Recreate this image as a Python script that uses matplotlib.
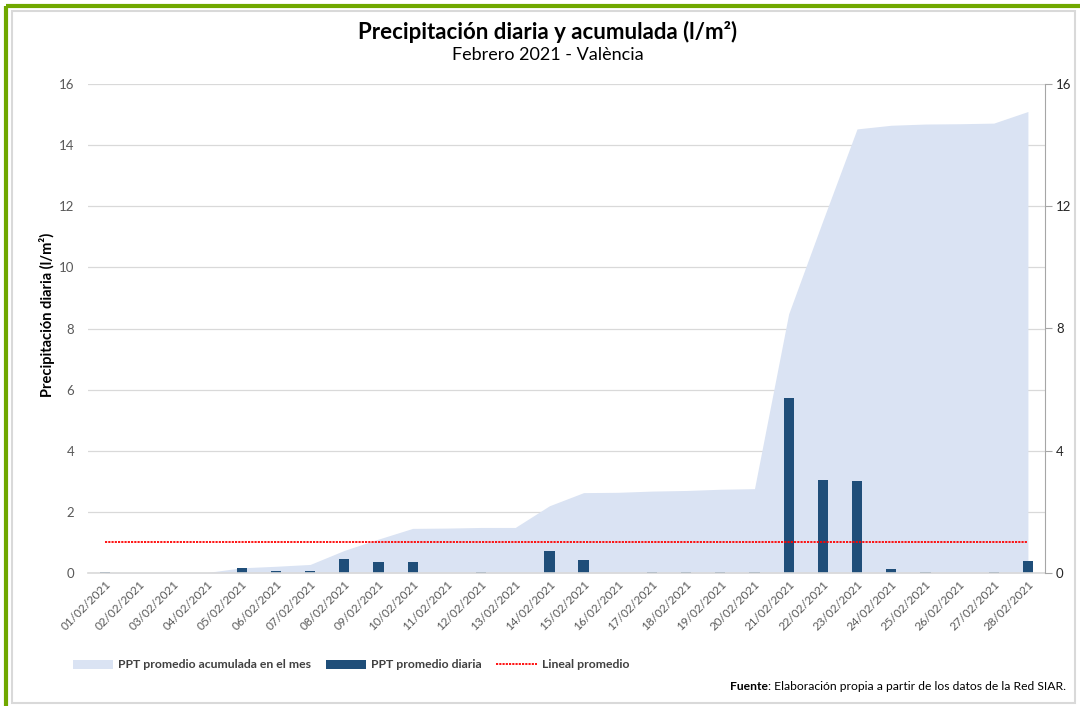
import matplotlib
matplotlib.use("Agg")
from matplotlib import pyplot as plt
from matplotlib.patches import Rectangle, Patch
from matplotlib.lines import Line2D
import numpy as np

plt.rcParams['font.family'] = ['Lato', 'DejaVu Sans']

dias = ['%02d/02/2021' % d for d in range(1, 29)]
ppt_diaria = [0.02, 0, 0, 0, 0.15, 0.05, 0.06, 0.46, 0.37, 0.35,
              0.01, 0.02, 0, 0.71, 0.43, 0.01, 0.04, 0.02, 0.04, 0.02,
              5.72, 3.05, 3.0, 0.12, 0.04, 0.01, 0.02, 0.38]
ppt_acumulada = [0.02, 0.02, 0.02, 0.02, 0.17, 0.22, 0.28, 0.74, 1.11, 1.46,
                 1.47, 1.49, 1.49, 2.2, 2.63, 2.64, 2.68, 2.7, 2.74, 2.76,
                 8.48, 11.53, 14.53, 14.65, 14.69, 14.7, 14.72, 15.1]
lineal_promedio = 1.0

gris = '#595959'
x = np.arange(len(dias))

fig = plt.figure(figsize=(10.8, 7.06), dpi=100)
# marco
fig.patches.append(Rectangle((12/1080, 3/706), 1063/1080, 692/706, transform=fig.transFigure,
                             fill=False, edgecolor='#D9D9D9', linewidth=1.5))
fig.patches.append(Rectangle((6/1080, 0), 0, 700/706, transform=fig.transFigure,
                             fill=False, edgecolor='#70A800', linewidth=3))
fig.patches.append(Rectangle((6/1080, 700/706), 1074/1080, 0, transform=fig.transFigure,
                             fill=False, edgecolor='#70A800', linewidth=3))

ax = fig.add_axes([88/1080, 1 - 573/706, (1045 - 88)/1080, (573 - 84)/706])
ax.fill_between(x, ppt_acumulada, color='#DAE3F3', linewidth=0, zorder=1)
ax.bar(x, ppt_diaria, width=0.3, color='#1F4E79', zorder=2)
ax.plot([x[0], x[-1]], [lineal_promedio, lineal_promedio], color='#FF0000',
        linestyle=(0, (1.2, 0.6)), linewidth=1.3, zorder=3)

ax.set_xlim(-0.5, len(dias) - 0.5)
ax.set_ylim(0, 16)
ax.set_yticks(range(0, 17, 2))
ax.grid(axis='y', color='#D9D9D9', linewidth=0.9, zorder=0)
ax.set_axisbelow(True)
for s in ['top', 'right', 'left']:
    ax.spines[s].set_visible(False)
ax.spines['bottom'].set_color('#D9D9D9')
ax.spines['bottom'].set_linewidth(1.2)
ax.tick_params(axis='y', length=0, pad=10, labelsize=9.5, labelcolor=gris)
ax.tick_params(axis='x', length=0, pad=4)
ax.set_xticks(x)
ax.set_xticklabels(dias, rotation=45, ha='right', va='top', rotation_mode='anchor',
                   fontsize=8.5, color=gris)
ax.set_ylabel('Precipitación diaria (l/m²)', fontsize=10.5, fontweight='bold', color='black')
ax.yaxis.set_label_coords((55 - 88) / (1045 - 88), 0.528)

ax2 = ax.twinx()
ax2.set_ylim(0, 16)
ax2.set_yticks([0, 4, 8, 12, 16])
for s in ['top', 'left', 'bottom']:
    ax2.spines[s].set_visible(False)
ax2.spines['right'].set_color('#A6A6A6')
ax2.tick_params(axis='y', length=5, color='#A6A6A6', labelsize=9.5, labelcolor='#262626', pad=3)

fig.text(548/1080, 1 - 32/706, 'Precipitación diaria y acumulada (l/m²)', ha='center', va='center',
         fontsize=16, fontweight='bold')
fig.text(548/1080, 1 - 55/706, 'Febrero 2021 - València', ha='center', va='center', fontsize=13)

handles = [Patch(facecolor='#DAE3F3', edgecolor='none'),
           Patch(facecolor='#1F4E79', edgecolor='none'),
           Line2D([0], [0], color='#FF0000', linestyle=(0, (1.2, 0.6)), linewidth=1.3)]
labels = ['PPT promedio acumulada en el mes', 'PPT promedio diaria', 'Lineal promedio']
leg = fig.legend(handles, labels, loc='center left', bbox_to_anchor=(62/1080, 1 - 665/706),
                 ncol=3, frameon=False, fontsize=8.8, handlelength=3.3, handleheight=0.8,
                 columnspacing=1.2, handletextpad=0.4)
for t in leg.get_texts():
    t.set_fontweight('bold')
    t.set_color('#404040')

resto = fig.text(1066/1080, 1 - 686/706, ': Elaboración propia a partir de los datos de la Red SIAR.',
                 ha='right', va='center', fontsize=8.7)
fig.canvas.draw()
bb = resto.get_window_extent()
fig.text(bb.x0 / fig.bbox.width, 1 - 686/706, 'Fuente', ha='right', va='center',
         fontsize=8.7, fontweight='bold')

fig.savefig('out.png', dpi=100)
